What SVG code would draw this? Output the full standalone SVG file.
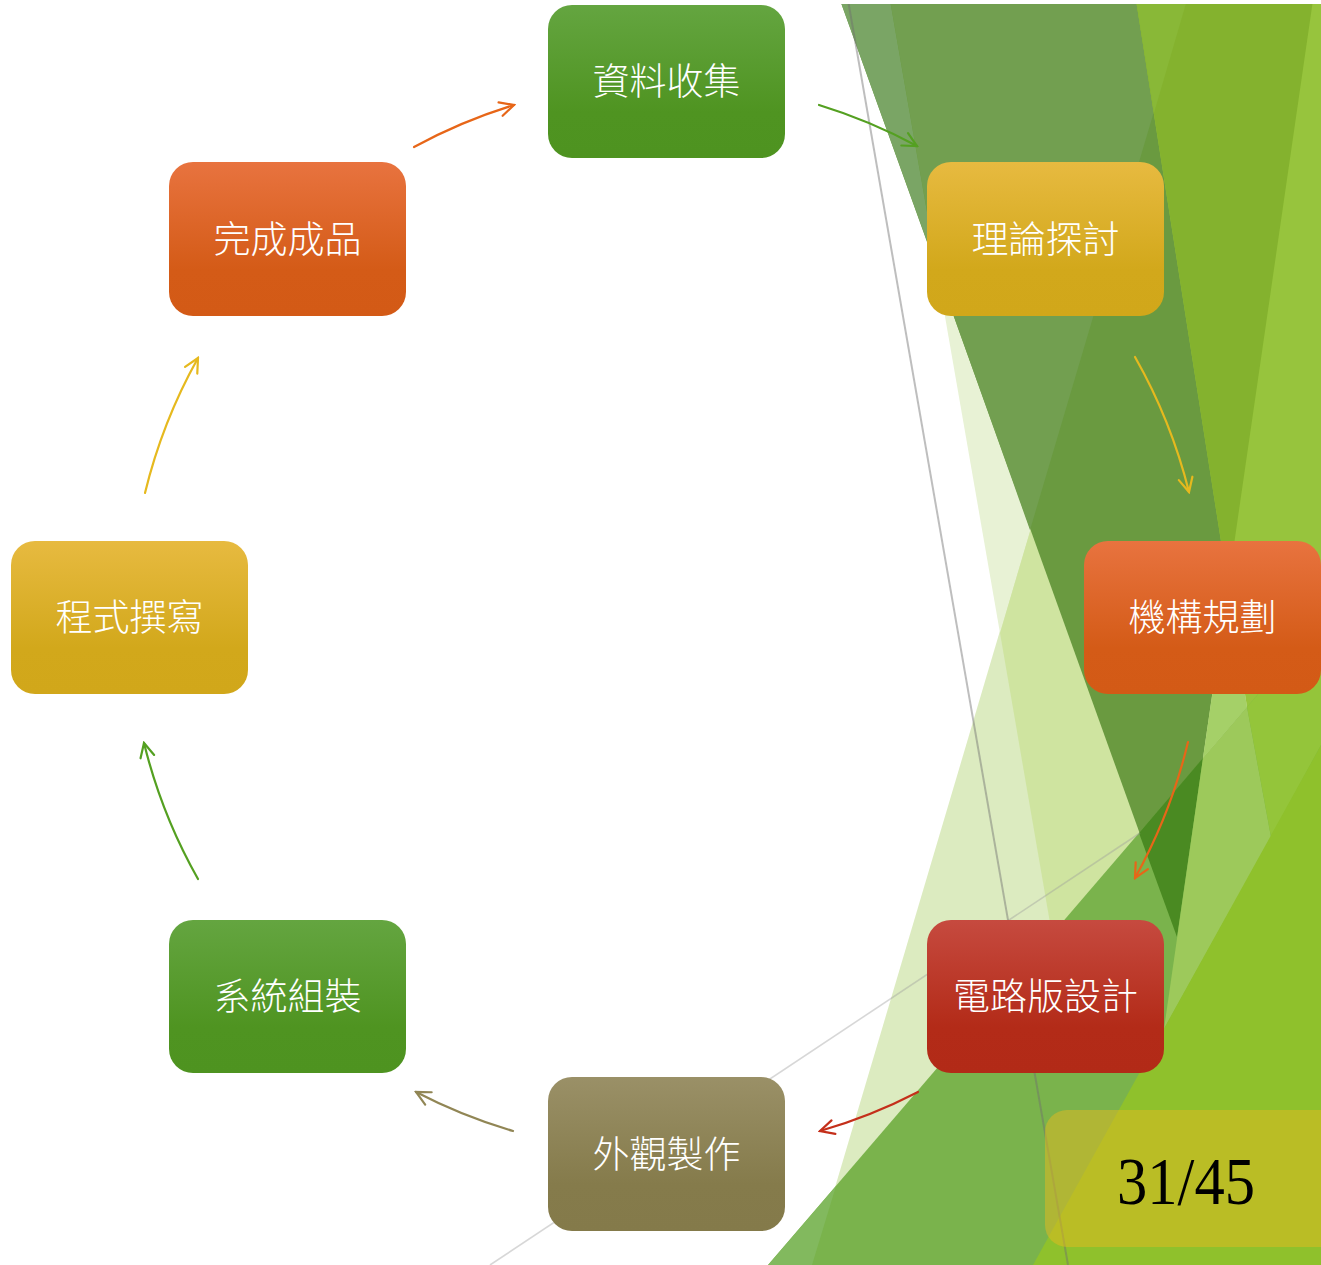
<svg xmlns="http://www.w3.org/2000/svg" width="1321" height="1265" viewBox="0 0 1321 1265">
<defs>
<style>
.node text{font-family:"Noto Sans CJK TC","Noto Sans CJK SC",sans-serif;font-size:37px;font-weight:300;fill:#ffffff;text-anchor:middle}
.conn{fill:none;stroke-width:2.2;stroke-linecap:round}
</style>
<linearGradient id="gGreen" x1="0" y1="0" x2="0" y2="1"><stop offset="0" stop-color="#64a540"/><stop offset="0.7" stop-color="#4f9421"/><stop offset="1" stop-color="#4e9320"/></linearGradient>
<linearGradient id="gYellow" x1="0" y1="0" x2="0" y2="1"><stop offset="0" stop-color="#e7ba40"/><stop offset="0.7" stop-color="#d2a81b"/><stop offset="1" stop-color="#d1a71a"/></linearGradient>
<linearGradient id="gOrange" x1="0" y1="0" x2="0" y2="1"><stop offset="0" stop-color="#e8733f"/><stop offset="0.7" stop-color="#d45b17"/><stop offset="1" stop-color="#d35a16"/></linearGradient>
<linearGradient id="gRed" x1="0" y1="0" x2="0" y2="1"><stop offset="0" stop-color="#c64a3f"/><stop offset="0.7" stop-color="#b32b18"/><stop offset="1" stop-color="#b22a17"/></linearGradient>
<linearGradient id="gOlive" x1="0" y1="0" x2="0" y2="1"><stop offset="0" stop-color="#9a9067"/><stop offset="0.7" stop-color="#857b4b"/><stop offset="1" stop-color="#847a4a"/></linearGradient>
<marker id="aOrange" viewBox="-18 -10 20 20" markerWidth="20" markerHeight="20" refX="0" refY="0" orient="auto" markerUnits="userSpaceOnUse"><path d="M-14,-7 L0,0 L-14,7" fill="none" stroke="#e76618" stroke-width="2.2" stroke-linecap="round"/></marker>
<marker id="aGreen" viewBox="-18 -10 20 20" markerWidth="20" markerHeight="20" refX="0" refY="0" orient="auto" markerUnits="userSpaceOnUse"><path d="M-14,-7 L0,0 L-14,7" fill="none" stroke="#54a021" stroke-width="2.2" stroke-linecap="round"/></marker>
<marker id="aYellow" viewBox="-18 -10 20 20" markerWidth="20" markerHeight="20" refX="0" refY="0" orient="auto" markerUnits="userSpaceOnUse"><path d="M-14,-7 L0,0 L-14,7" fill="none" stroke="#e6b91e" stroke-width="2.2" stroke-linecap="round"/></marker>
<marker id="aRed" viewBox="-18 -10 20 20" markerWidth="20" markerHeight="20" refX="0" refY="0" orient="auto" markerUnits="userSpaceOnUse"><path d="M-14,-7 L0,0 L-14,7" fill="none" stroke="#c42f1a" stroke-width="2.2" stroke-linecap="round"/></marker>
<marker id="aOlive" viewBox="-18 -10 20 20" markerWidth="20" markerHeight="20" refX="0" refY="0" orient="auto" markerUnits="userSpaceOnUse"><path d="M-14,-7 L0,0 L-14,7" fill="none" stroke="#918655" stroke-width="2.2" stroke-linecap="round"/></marker>
</defs>
<rect x="0" y="0" width="1321" height="1265" fill="#ffffff"/>
<g id="background">
<polygon points="1187,0 1321,0 1321,1265 812,1265" fill="#dcebc0"/>
<polygon points="890,0 1187,0 1000,633" fill="#e8f2d5"/>
<polygon points="1000,633 1187,0 1321,0 1321,1265 1109,1265" fill="#cfe4a0"/>
<polygon points="840,0 1313,0 1177,937" fill="#6a9a40"/>
<polygon points="840,0 890,0 937,269" fill="#7aa565"/>
<polygon points="890,0 937,269 1030,530 1187,0" fill="#729f50"/>
<polygon points="1136,0 1321,0 1321,1178" fill="#97c43d"/>
<polygon points="1136,0 1313,0 1228,586" fill="#84b22e"/>
<polygon points="1136,0 1187,0 1154,113" fill="#89b837"/>
<polygon points="1228,586 1247,707 1203,758" fill="#a5d068"/>
<polygon points="768,1265 1321,621 1321,1265" fill="#7ab34c"/>
<polygon points="768,1265 836,1186 812,1265" fill="#82b95e"/>
<polygon points="1139,833 1203,758 1177,937" fill="#4a8a22"/>
<polygon points="1203,758 1247,707 1271,837 1164,1029" fill="#9dc95b"/>
<polygon points="1247,707 1321,621 1321,745 1271,837" fill="#94c53a"/>
<polygon points="1321,745 1321,1265 1033,1265" fill="#8fc12c"/>
<line x1="848" y1="0" x2="1068" y2="1265" stroke="#6e6e6e" stroke-opacity="0.45" stroke-width="2"/>
<line x1="490" y1="1265" x2="1140" y2="833" stroke="#9a9a9a" stroke-opacity="0.4" stroke-width="1.6"/>
<rect x="0" y="0" width="1321" height="4" fill="#ffffff"/>
</g>
<g id="connectors">
<path class="conn" d="M414,147 A535,535 0 0 1 514,105" stroke="#e76618" marker-end="url(#aOrange)"/>
<path class="conn" d="M819,105 A535,535 0 0 1 917,146" stroke="#54a021" marker-end="url(#aGreen)"/>
<path class="conn" d="M1135,357 A536,536 0 0 1 1189,492" stroke="#e6b91e" marker-end="url(#aYellow)"/>
<path class="conn" d="M1188,742 A536,536 0 0 1 1135,878" stroke="#e76618" marker-end="url(#aOrange)"/>
<path class="conn" d="M918,1092 A536,536 0 0 1 820,1131" stroke="#c42f1a" marker-end="url(#aRed)"/>
<path class="conn" d="M513,1131 A536,536 0 0 1 416,1092" stroke="#918655" marker-end="url(#aOlive)"/>
<path class="conn" d="M198,879 A536,536 0 0 1 144,743" stroke="#54a021" marker-end="url(#aGreen)"/>
<path class="conn" d="M145,493 A536,536 0 0 1 198,358" stroke="#e6b91e" marker-end="url(#aYellow)"/>
</g>
<g id="node-1" class="node"><rect x="548" y="5" width="237" height="153" rx="24" fill="url(#gGreen)"/><text x="666.5" y="95">資料收集</text></g>
<g id="node-2" class="node"><rect x="927" y="162" width="237" height="154" rx="24" fill="url(#gYellow)"/><text x="1045.5" y="252.5">理論探討</text></g>
<g id="node-3" class="node"><rect x="1084" y="541" width="237" height="153" rx="24" fill="url(#gOrange)"/><text x="1202.5" y="631">機構規劃</text></g>
<g id="node-4" class="node"><rect x="927" y="920" width="237" height="153" rx="24" fill="url(#gRed)"/><text x="1045.5" y="1010">電路版設計</text></g>
<g id="node-5" class="node"><rect x="548" y="1077" width="237" height="154" rx="24" fill="url(#gOlive)"/><text x="666.5" y="1167.5">外觀製作</text></g>
<g id="node-6" class="node"><rect x="169" y="920" width="237" height="153" rx="24" fill="url(#gGreen)"/><text x="287.5" y="1010">系統組裝</text></g>
<g id="node-7" class="node"><rect x="11" y="541" width="237" height="153" rx="24" fill="url(#gYellow)"/><text x="129.5" y="631">程式撰寫</text></g>
<g id="node-8" class="node"><rect x="169" y="162" width="237" height="154" rx="24" fill="url(#gOrange)"/><text x="287.5" y="252.5">完成成品</text></g>
<g id="page-number"><rect x="1045" y="1110" width="300" height="137" rx="22" fill="#e6b91e" fill-opacity="0.5"/><text x="1186" y="1204" font-family="Liberation Serif, serif" font-size="68" fill="#000000" text-anchor="middle" textLength="138" lengthAdjust="spacingAndGlyphs">31/45</text></g>
</svg>
